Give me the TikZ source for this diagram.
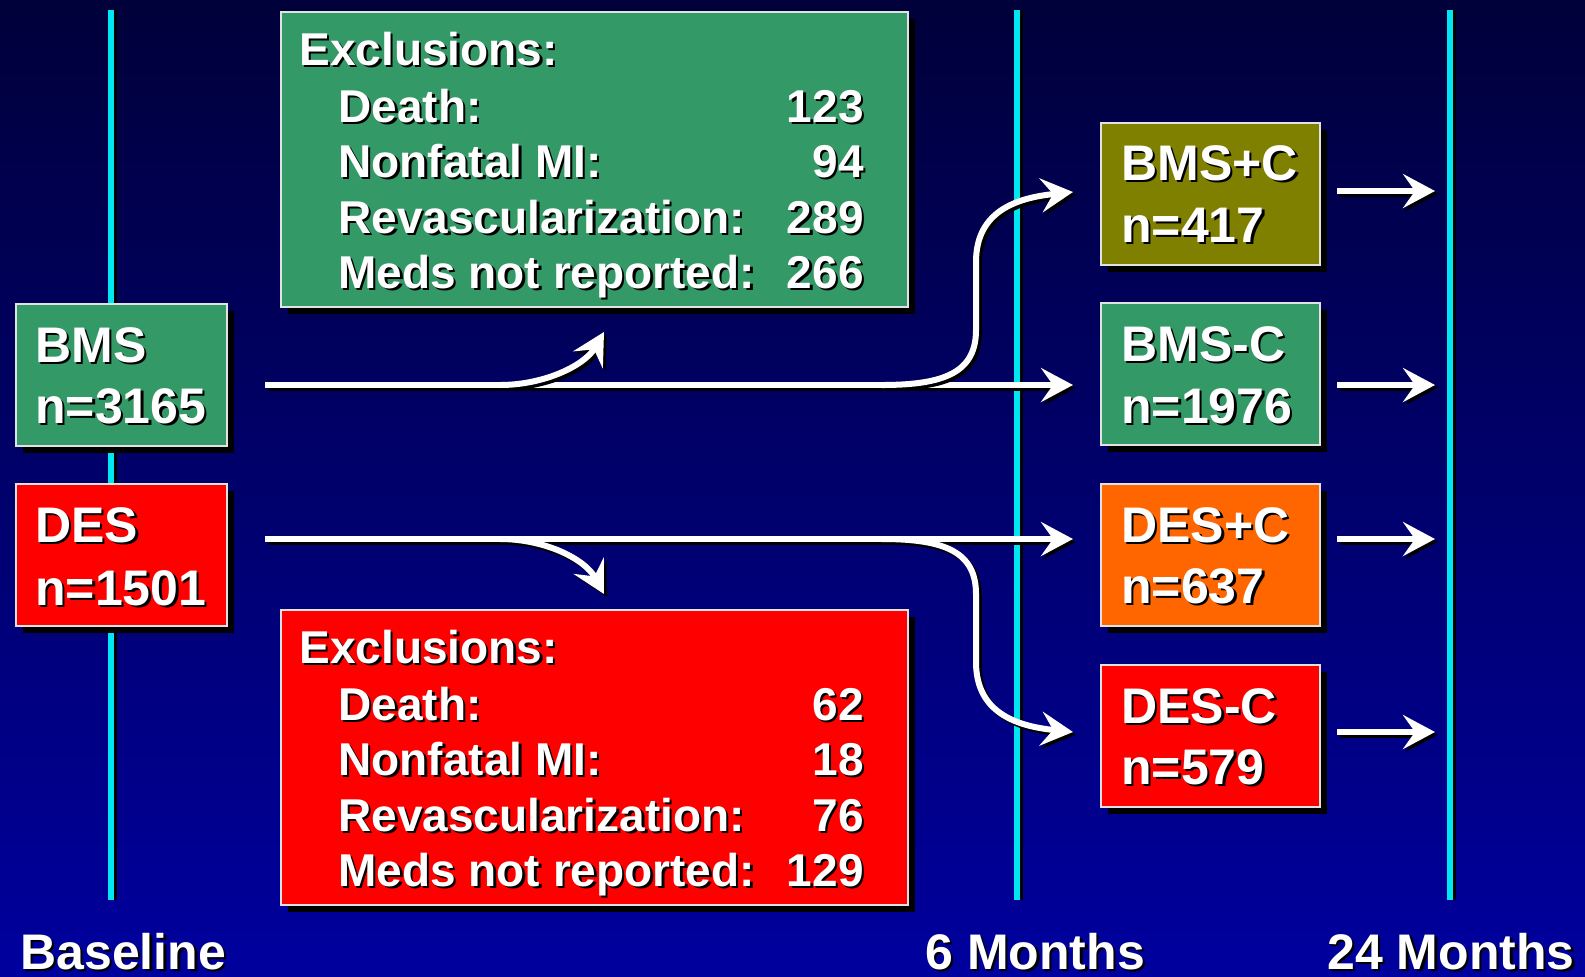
\documentclass[tikz,border=0pt]{standalone}
\usepackage{fontspec}
\setmainfont{Liberation Sans}
\usetikzlibrary{arrows.meta,shadows}
\definecolor{bgtop}{HTML}{00003A}
\definecolor{bgbot}{HTML}{00009E}
\definecolor{cy}{HTML}{00E6F2}
\definecolor{grn}{HTML}{339966}
\definecolor{olv}{HTML}{808000}
\definecolor{org}{HTML}{FF6600}
\definecolor{rd}{HTML}{FF0000}
\definecolor{edge}{HTML}{E2E2E2}
\newcommand\shtx[1]{\leavevmode\rlap{\hspace{1.2pt}\raisebox{-1.2pt}{\textcolor{black}{#1}}}#1}
\newcommand\wpath[1]{\draw[shd] #1; \draw[wline] #1;}
\begin{document}
\begin{tikzpicture}[x=0.5pt,y=-0.5pt,
  bx/.style={draw=edge, line width=0.9pt, inner sep=0pt, anchor=north west,
    drop shadow={shadow xshift=3.5pt, shadow yshift=-3.5pt, fill=black, opacity=1}},
  smallbox/.style={bx, minimum width=105.5pt, minimum height=71pt},
  rbox/.style={bx, minimum width=109.5pt, minimum height=71pt},
  exbox/.style={bx, minimum width=313.5pt, minimum height=147.5pt},
  lg/.style={text=white, font=\fontsize{25}{30}\selectfont\bfseries, inner sep=0pt, anchor=base west},
  md/.style={text=white, font=\fontsize{23}{27}\selectfont\bfseries, inner sep=0pt, anchor=base west},
  mdr/.style={md, anchor=base east},
  tipst/.style={-{Stealth[length=16pt,width=17pt,inset=6pt]}},
  wline/.style={white, line width=3pt, tipst},
  shd/.style={black, line width=3pt, tipst, transform canvas={shift={(1.4pt,-1.4pt)}}},
  axis/.style={cy, line width=3pt},
  axshd/.style={black, line width=2pt, transform canvas={shift={(2pt,0pt)}}}
]
\useasboundingbox (0,0) rectangle (1585,976);
\shade[top color=bgtop, bottom color=bgbot] (0,0) rectangle (1585,976);

% time axes
\foreach \xx in {111,1017,1450} {
  \draw[axshd] (\xx,10) -- (\xx,900);
  \draw[axis] (\xx,10) -- (\xx,900);
}

% boxes
\node[smallbox, fill=grn] (bms) at (15,303) {};
\node[smallbox, fill=rd] (des) at (15,483) {};
\node[exbox, fill=grn] (exT) at (280,11) {};
\node[exbox, fill=rd] (exB) at (280,609) {};
\node[rbox, fill=olv] (bmsp) at (1100,122) {};
\node[rbox, fill=grn] (bmsm) at (1100,302) {};
\node[rbox, fill=org] (desp) at (1100,483) {};
\node[rbox, fill=rd] (desm) at (1100,664) {};

% connector end points
\coordinate (bOut) at (265,385);
\coordinate (bIn) at (1073,385);
\coordinate (dOut) at (265,539);
\coordinate (dIn) at (1073,539);
\coordinate (bSplit) at (500,385);
\coordinate (dSplit) at (500,539);
\coordinate (exTin) at (604,332);
\coordinate (exBin) at (604,594);
\coordinate (bSplit2) at (882,385);
\coordinate (dSplit2) at (882,539);
\coordinate (bpIn) at (1073,192);
\coordinate (dmIn) at (1073,732);
\foreach \nm/\yy in {bmsp/191,bmsm/385,desp/539,desm/732} {
  \coordinate (\nm-o) at (1337,\yy);
  \coordinate (\nm-t) at (1435,\yy);
}

% arrows
\wpath{(bOut) -- (bIn)}
\wpath{(dOut) -- (dIn)}
\wpath{(bSplit) .. controls (545,385) and (585,365) .. (exTin)}
\wpath{(dSplit) .. controls (545,539) and (585,559) .. (exBin)}
\wpath{(bSplit2) .. controls (945,385) and (976,372) .. (976,330) -- (976,262) .. controls (976,212) and (1015,198) .. (bpIn)}
\wpath{(dSplit2) .. controls (945,539) and (976,552) .. (976,594) -- (976,662) .. controls (976,712) and (1015,726) .. (dmIn)}
\foreach \nm in {bmsp,bmsm,desp,desm} {
  \wpath{(\nm-o) -- (\nm-t)}
}

% texts
\node[lg] (tbms1) at (35,362) {\shtx{BMS}};
\node[lg] (tbms2) at (35,423) {\shtx{n=3165}};
\node[lg] (tdes1) at (35,542) {\shtx{DES}};
\node[lg] (tdes2) at (35,605) {\shtx{n=1501}};

\node[lg] (tbp1) at (1121,180) {\shtx{BMS+C}};
\node[lg] (tbp2) at (1121,242) {\shtx{n=417}};
\node[lg] (tbm1) at (1121,361) {\shtx{BMS-C}};
\node[lg] (tbm2) at (1121,423) {\shtx{n=1976}};
\node[lg] (tdp1) at (1121,542) {\shtx{DES+C}};
\node[lg] (tdp2) at (1121,603) {\shtx{n=637}};
\node[lg] (tdm1) at (1121,723) {\shtx{DES-C}};
\node[lg] (tdm2) at (1121,784) {\shtx{n=579}};

% top exclusions
\node[md] (eT0) at (299,65) {\shtx{Exclusions:}};
\node[md] (eT1) at (338,122) {\shtx{Death:}};
\node[md] (eT2) at (338,177) {\shtx{Nonfatal MI:}};
\node[md] (eT3) at (338,233) {\shtx{Revascularization:}};
\node[md] (eT4) at (338,288) {\shtx{Meds not reported:}};
\node[mdr] (nT1) at (864,122) {\shtx{123}};
\node[mdr] (nT2) at (864,177) {\shtx{94}};
\node[mdr] (nT3) at (864,233) {\shtx{289}};
\node[mdr] (nT4) at (864,288) {\shtx{266}};

% bottom exclusions
\node[md] (eB0) at (299,663) {\shtx{Exclusions:}};
\node[md] (eB1) at (338,720) {\shtx{Death:}};
\node[md] (eB2) at (338,775) {\shtx{Nonfatal MI:}};
\node[md] (eB3) at (338,831) {\shtx{Revascularization:}};
\node[md] (eB4) at (338,886) {\shtx{Meds not reported:}};
\node[mdr] (nB1) at (864,720) {\shtx{62}};
\node[mdr] (nB2) at (864,775) {\shtx{18}};
\node[mdr] (nB3) at (864,831) {\shtx{76}};
\node[mdr] (nB4) at (864,886) {\shtx{129}};

% time labels
\node[lg] (lb0) at (20,969) {\shtx{Baseline}};
\node[lg] (lb6) at (925,969) {\shtx{6 Months}};
\node[lg] (lb24) at (1327,969) {\shtx{24 Months}};
\end{tikzpicture}
\end{document}
